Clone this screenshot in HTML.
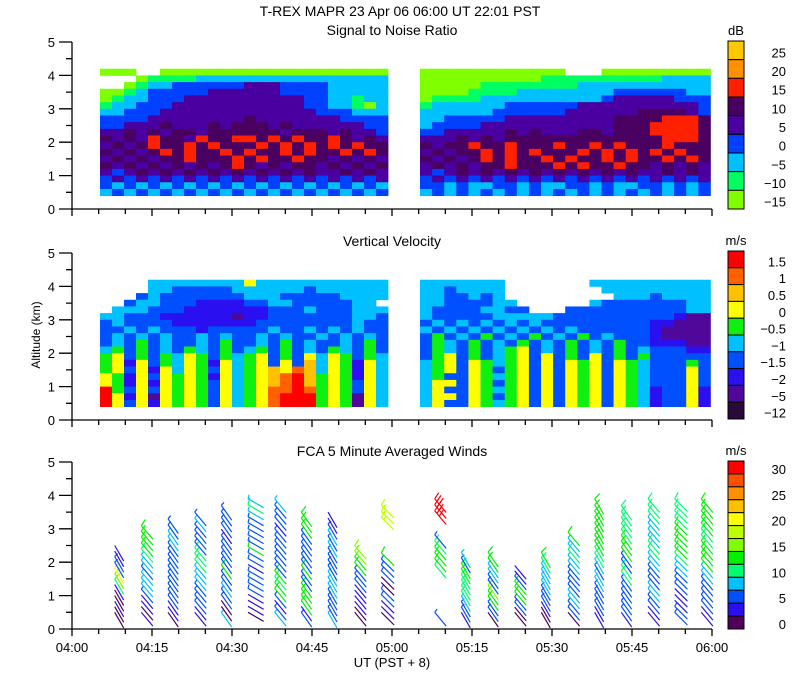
<!DOCTYPE html>
<html><head><meta charset="utf-8">
<style>
html,body{margin:0;padding:0;background:#fff;}
svg{display:block;font-family:"Liberation Sans",sans-serif;}
text{fill:#000;font-size:13px;}
</style></head>
<body>
<svg id="chart" width="800" height="700" viewBox="0 0 800 700" xmlns="http://www.w3.org/2000/svg">
<rect width="800" height="700" fill="#fff"/>
<text x="400" y="16" text-anchor="middle" style="font-size:14px">T-REX  MAPR 23 Apr 06  06:00 UT  22:01  PST</text>
<text x="392" y="35" text-anchor="middle" style="font-size:14px">Signal to Noise Ratio</text>
<text x="392" y="246" text-anchor="middle" style="font-size:14px">Vertical Velocity</text>
<text x="392" y="456" text-anchor="middle" style="font-size:14px">FCA 5 Minute Averaged Winds</text>
<text x="0" y="0" text-anchor="middle" transform="translate(40,335) rotate(-90)" style="font-size:12px">Altitude (km)</text>
<text x="392" y="667" text-anchor="middle" style="font-size:13px">UT  (PST + 8)</text>
<g id="layer"></g>
</svg>
<script>
// ---------- data ----------
const snrLabels=["25","20","15","10","5","0","\u22125","\u221210","\u221215"];
const snrColors=["#80ff00","#00ff60","#00c0ff","#0040ff","#4a00a0","#4a0060","#ff2000","#ff9000","#ffc800"];
const vvLabels=["1.5","1","0.5","0","\u22120.5","\u22121","\u22121.5","\u22122","\u22125","\u221212"];
const vvColors=["#2a0a3a","#50089a","#2a10f0","#0050ff","#00c0ff","#10f010","#ffff00","#ffc000","#ff6000","#ff0000"];
const windLabels=["30","25","20","15","10","5","0"];
const windColors=["#50005a","#2a10f0","#0050ff","#00c0ff","#00ff70","#00f000","#80ff00","#c0ff00","#ffff00","#ffc000","#ff9000","#ff5000","#ff0000"];
const xTickMinutes=[0,15,30,45,60,75,90,105,120];
const xTickLabels=["04:00","04:15","04:30","04:45","05:00","05:15","05:30","05:45","06:00"];
const yTicks=[0,1,2,3,4,5];
const segments=[[5.25,59.25],[65.25,119.7]];
const snrSeg1=["000..0000000000000000000","...011112222222222222222","..0122333333444333322222","001233333444444333322222","012233344444444443322122","122333444444444443322102","223334444444444444333222","333344444444544444443333","334445444545554544444433","445454554555555455545443","545465546556656565565454","454565565655565656565655","545456565565655656556565","454545565556565565545454","545454545456545455454545","434545454545454545445454","343434343434343434343434","323232323232323232323232","232323232323232323232323"];
const snrSeg2=["000000000000...000000000","000000000011111111112222","000001111111122222222222","000011112222222233333322","011112222222222344444333","122222233333344444444443","222222333333444444555543","223333344444444455556665","233334444444444455566665","334444454544455455566665","444545455555555555556665","545565565556556565556555","454556565655565656565655","545456565565655656556565","454545565556565565545454","434545454545454545445454","343434343434343434343434","332322332322332322332323","232323232323232323232323"];
const vvSeg1=["....44444444644444444444","....44333334444443444444","...343333333444333334444","..344333222233443333344",".44433322222223334333444","443332222221223333333443","343333222222233333333433","334343332333334334343433","343434334343343433434343","343534334353343534334353","453534354353453534354353","563535465354563536465354","562635465264563637465264","563626465364567687465264","652636565264567897565264","652626565364567897565364","953636565364568898565364","962616565364568999565164","963626565364568999565164"];
const vvSeg2=["4444444.......4444444444","4434444........444444444","4433434.........44434444","44333344......4333333344","433334433...333333333344","433333444443333333333211","343434343433333333322111","434343434343433333321111","353435343534353433321111","354353435343534353322211","354353456343534353433322","356353456363536353533333","456365456363656365433353","456365356363656365433363","453365456363656365433363","466365356363656365433363","463365456363656365423362","466365356363656365423362","463365456363656365423362"];
const windTimes=[8,13,18,23,28,33,38,43,48,53,58,68,73,78,83,88,93,98,103,108,113,118];
const windSpeedClass=["0010014682211","1011233323345555","01122222222223322","112222333444222232","3002232252222212222","01112222122522222343","32125545222222212223","215555225222222555","322223332222323211","0011112225566","01122002225.....777","2.......455542...ccc","122344445523","022556223355","0022555211","001222333345","022332222334335","11222233234455555555","1222222442255544444","11223322233443333444","22111222334555554444","11222223355554455555"];
const windDirs=[330,320,325,320,325,300,320,325,330,320,315,320,330,325,320,330,320,330,325,320,315,320];

// ---------- scales ----------
const X0=72, PX_PER_MIN=640/120;
function xScale(m){return X0+m*PX_PER_MIN;}
const panels=[{y0:209,y5:42,cbTop:41,cbBot:209},{y0:420,y5:253,cbTop:251,cbBot:419},{y0:629,y5:462,cbTop:461,cbBot:629}];
function yScale(p,alt){const P=panels[p];return P.y0+(P.y5-P.y0)*alt/5;}

const NS="http://www.w3.org/2000/svg";
const layer=document.getElementById('layer');
function mk(tag,attrs,parent){const e=document.createElementNS(NS,tag);for(const k in attrs)e.setAttribute(k,attrs[k]);(parent||layer).appendChild(e);return e;}

function heatmap(p,segsRows,colors,name){
  const g=mk('g',{});
  
  
  segsRows.forEach((rows,si)=>{
    const [m0,m1]=segments[si];
    const ncol=24, cw=(xScale(m1)-xScale(m0))/ncol;
    rows.forEach((row,ri)=>{
      const altTop=4.2-ri*0.2, altBot=altTop-0.2;
      const yT=yScale(p,altTop), yB=yScale(p,altBot);
      for(let c=0;c<ncol&&c<row.length;c++){
        const ch=row[c]; if(ch==='.')continue;
        const r=mk('rect',{x:(xScale(m0)+c*cw).toFixed(2),y:yT.toFixed(2),width:(cw+0.4).toFixed(2),height:(yB-yT+0.4).toFixed(2),fill:colors[+ch]},g);
        
        
      }
    });
  });
}
heatmap(0,[snrSeg1,snrSeg2],snrColors,'snr-heatmap');
heatmap(1,[vvSeg1,vvSeg2],vvColors,'velocity-heatmap');

// ---------- wind barbs ----------
const wg=mk('g',{fill:'none','stroke-width':1.2});


windTimes.forEach((t,ci)=>{
  const s=windSpeedClass[ci], d=windDirs[ci]*Math.PI/180;
  const n=s.length, top=0.1+0.2*(n-1), base=0.5;
  for(let i=0;i<n;i++){
    const ch=s[i]; if(ch==='.')continue;
    const cls=parseInt(ch,16); const spd=cls*2.5+1.5;
    const alt=n>1?base+(top-base)*i/(n-1):top;
    const ux=Math.sin(d), uy=-Math.cos(d), L=18;
    const ex=xScale(t), ey=yScale(2,alt);
    const bx=ex-ux*L, by=ey-uy*L;
    let path=`M${bx.toFixed(1)},${by.toFixed(1)}L${ex.toFixed(1)},${ey.toFixed(1)}`;
    const px=-uy, py=ux;
    let full=Math.floor(spd/10), half=(spd%10)>=5?1:0, k=0;
    for(let f=0;f<full;f++,k++){const sx=ex-ux*k*3.5, sy=ey-uy*k*3.5;path+=`M${sx.toFixed(1)},${sy.toFixed(1)}l${(px*7+ux*2).toFixed(1)},${(py*7+uy*2).toFixed(1)}`;}
    if(half){const sx=ex-ux*k*3.5, sy=ey-uy*k*3.5;path+=`M${sx.toFixed(1)},${sy.toFixed(1)}l${(px*4+ux*1).toFixed(1)},${(py*4+uy*1).toFixed(1)}`;}
    const e=mk('path',{d:path,stroke:windColors[Math.min(cls,12)]},wg);
    
    
  }
});

// ---------- axes ----------
panels.forEach((P,pi)=>{
  const ag=mk('g',{stroke:'#000','stroke-width':1.3,fill:'none'});
  
  
  mk('path',{d:`M${X0},${P.y5}V${P.y0}H${xScale(120)}`},ag);
  let d='';
  yTicks.forEach(v=>{const y=yScale(pi,v);d+=`M${X0-13},${y}H${X0}`;if(v<5){const y2=yScale(pi,v+0.5);d+=`M${X0-6},${y2}H${X0}`;}});
  for(let m=0;m<=120;m+=5){const x=xScale(m);d+=`M${x},${P.y0}v${m%15===0?7:5}`;}
  mk('path',{d:d},ag);
  yTicks.forEach(v=>{
    const t=mk('text',{x:X0-17,y:yScale(pi,v)+5,'text-anchor':'end'});
    t.textContent=v;
    
    
  });
});
xTickMinutes.forEach((m,i)=>{
  const t=mk('text',{x:xScale(m),y:652,'text-anchor':'middle'});
  t.textContent=xTickLabels[i];
  
  
});

function colorbar(pi,colorsTopDown,labels,unit,labelMode,name){
  const P=panels[pi];const g=mk('g',{});
  
  
  const n=colorsTopDown.length,h=(P.cbBot-P.cbTop)/n;
  colorsTopDown.forEach((c,i)=>{mk('rect',{x:728,y:P.cbTop+i*h,width:16,height:h,fill:c,stroke:'#000','stroke-width':1},g);});
  const u=mk('text',{x:736,y:P.cbTop-6,'text-anchor':'middle'},g);u.textContent=unit;
  labels.forEach((l,i)=>{
    let y; if(labelMode==='cell'){y=P.cbTop+(i+0.5)*h+7;} else {y=P.cbTop+9+i*(P.cbBot-P.cbTop-13)/(labels.length-1)+4;}
    const t=mk('text',{x:786,y:y,'text-anchor':'end'},g);t.textContent=l;
    
    
  });
}
colorbar(0,snrColors.slice().reverse(),snrLabels,'dB','cell','snr-colorbar');
colorbar(1,vvColors.slice().reverse(),vvLabels,'m/s','cell','velocity-colorbar');
colorbar(2,windColors.slice().reverse(),windLabels,'m/s','even','wind-colorbar');
</script>
</body></html>
